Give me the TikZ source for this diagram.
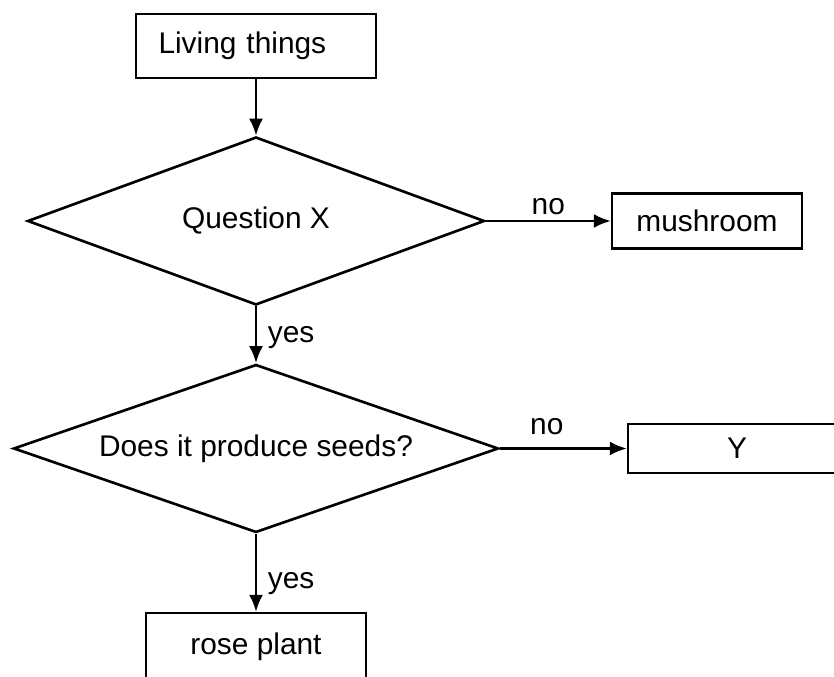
\documentclass[tikz,border=0pt]{standalone}
\usepackage{fontspec}
\setmainfont{Liberation Sans}
\usetikzlibrary{arrows.meta, positioning, shapes.geometric}

\begin{document}
\begin{tikzpicture}[
    every node/.style={font=\fontsize{17}{20}\selectfont},
    box/.style={draw, line width=1.3pt, fill=white, align=center, inner sep=2pt},
    dec/.style={diamond, draw, line width=1.5pt, fill=white, inner sep=0pt, aspect=2.8},
    a/.style={-{Latex[length=3.4mm, width=2.8mm]}, line width=1.5pt},
    al/.style={inner sep=1pt}
]
\useasboundingbox (0,0) rectangle (16.68,13.54);
\clip (0,0) rectangle (16.68,13.54);
% start
\node[box, text width=3.9cm, inner xsep=0.45cm, minimum height=1.28cm, align=left] (liv) at (5.12,12.62) {Living things};
% first question
\node[dec, minimum width=9.14cm, minimum height=3.36cm] (qx) at (5.12,9.12) {Question X};
\node[box, minimum width=3.8cm, minimum height=1.1cm] (mush) at (14.14,9.12) {mushroom};
\draw[a] (liv) -- (qx);
\draw[a] (qx) -- node[al, above=2pt] {no} (mush);
% second question
\node[dec, minimum width=9.7cm, minimum height=3.36cm] (sd) at (5.12,4.57) {Does it produce seeds?};
\node[box, minimum width=4.36cm, minimum height=0.98cm] (y) at (14.74,4.57) {Y};
\draw[a] (qx) -- node[al, right=5pt, pos=0.55] {yes} (sd);
\draw[a] (sd) -- node[al, above=6pt, pos=0.37] {no} (y);
% answer
\node[box, minimum width=4.4cm, minimum height=1.34cm] (rose) at (5.12,0.61) {rose plant};
\draw[a] (sd) -- node[al, right=5pt, pos=0.64] {yes} (rose);
\end{tikzpicture}
\end{document}
